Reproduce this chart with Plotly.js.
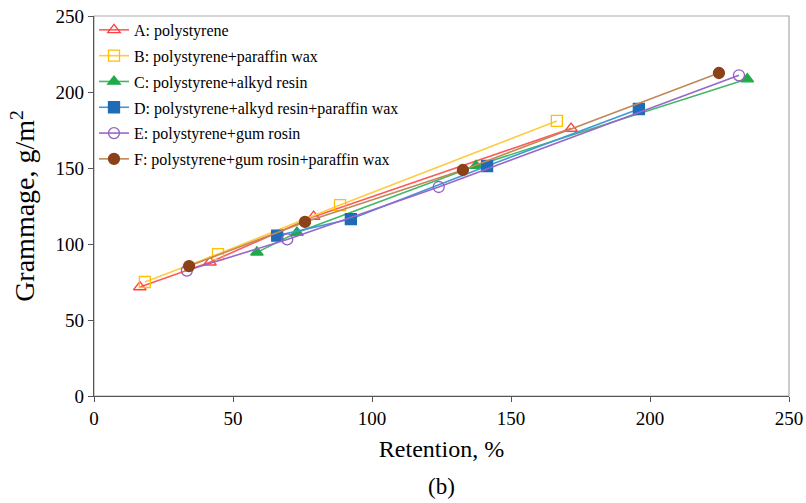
<!DOCTYPE html>
<html>
<head>
<meta charset="utf-8">
<script src="https://cdn.plot.ly/plotly-3.0.1.min.js"></script>
<style>html,body{margin:0;padding:0;background:#fff;}#chart{width:806px;height:503px;}</style>
</head>
<body>
<div id="chart"></div>
<script>
const names = ["A: polystyrene","B: polystyrene+paraffin wax","C: polystyrene+alkyd resin","D: polystyrene+alkyd resin+paraffin wax","E: polystyrene+gum rosin","F: polystyrene+gum rosin+paraffin wax"];
const xA = [16.5, 41.7, 79, 171.6];   const yA = [71.7, 88, 118, 176];
const xB = [18.3, 44.6, 88.5, 166.5]; const yB = [75, 93.4, 125.6, 181];
const xC = [58.6, 73, 137.4, 235];    const yC = [94.5, 107.5, 151.5, 208.5];
const xD = [65.9, 92.4, 141.4, 196];  const yD = [105.5, 116.4, 151.3, 188.8];
const xE = [33.4, 69.5, 124, 232];    const yE = [82.5, 103, 137.5, 211];
const xF = [34.2, 75.9, 132.7, 224.8];const yF = [85.5, 114.5, 148.7, 212.5];
const xTicks = [0, 50, 100, 150, 200, 250];
const yTicks = [0, 50, 100, 150, 200, 250];

const styles = [
  {line:'#FF5A5A', mc:'#FF4040', sym:'triangle-up-open'},
  {line:'#FFCC40', mc:'#FFC000', sym:'square-open'},
  {line:'#40B868', mc:'#1FAA4A', sym:'triangle-up'},
  {line:'#3C9AD8', mc:'#1E6CB8', sym:'square'},
  {line:'#9A66C8', mc:'#9060C0', sym:'circle-open'},
  {line:'#C08858', mc:'#8B4218', sym:'circle'}
];
const xs = [xA,xB,xC,xD,xE,xF], ys = [yA,yB,yC,yD,yE,yF];
const traces = names.map((n,i)=>({
  type:'scatter', mode:'lines+markers', name:n, x:xs[i], y:ys[i],
  legendgroup:'g'+i,
  line:{color:styles[i].line, width:1.6},
  marker:{symbol:styles[i].sym, size:11, color:styles[i].mc, line:{color:styles[i].mc, width:1.3}}
}));

const font = "'Liberation Serif'";
const layout = {
  width:806, height:503,
  margin:{l:94, r:17, t:16, b:107},
  paper_bgcolor:'#fff', plot_bgcolor:'#fff',
  showlegend:true,
  legend:{x:0.0, y:1.008, xanchor:'left', yanchor:'top', bgcolor:'rgba(0,0,0,0)',
    font:{family:font, size:16, color:'#000'}, tracegroupgap:2, itemwidth:30},
  xaxis:{range:[0,250], tickvals:xTicks, ticktext:xTicks.map(String),
    showgrid:false, zeroline:false, showline:true, linecolor:'#555', linewidth:1.2,
    ticks:'outside', ticklen:5, tickcolor:'#555',
    tickfont:{family:font, size:19, color:'#000'},
    title:{text:'Retention, %', font:{family:font, size:24, color:'#000'}, standoff:12}},
  yaxis:{range:[0,250], tickvals:yTicks, ticktext:yTicks.map(String),
    showgrid:false, zeroline:false, showline:true, linecolor:'#555', linewidth:1.2,
    ticks:'outside', ticklen:5, tickcolor:'#555',
    tickfont:{family:font, size:19, color:'#000'},
    title:{text:'Grammage, g/m<sup>2</sup>', font:{family:font, size:28, color:'#000'}, standoff:12}},
  shapes:[{type:'rect', xref:'paper', yref:'paper', x0:0, x1:1, y0:0, y1:1,
    line:{color:'#AAAAAA', width:1.2}, layer:'below'}],
  annotations:[{text:'(b)', xref:'paper', yref:'paper', x:0.5, y:-0.2, yanchor:'top', showarrow:false,
    font:{family:font, size:23, color:'#000'}}]
};
Plotly.newPlot('chart', traces, layout, {displayModeBar:false, staticPlot:true});
</script>
</body>
</html>
